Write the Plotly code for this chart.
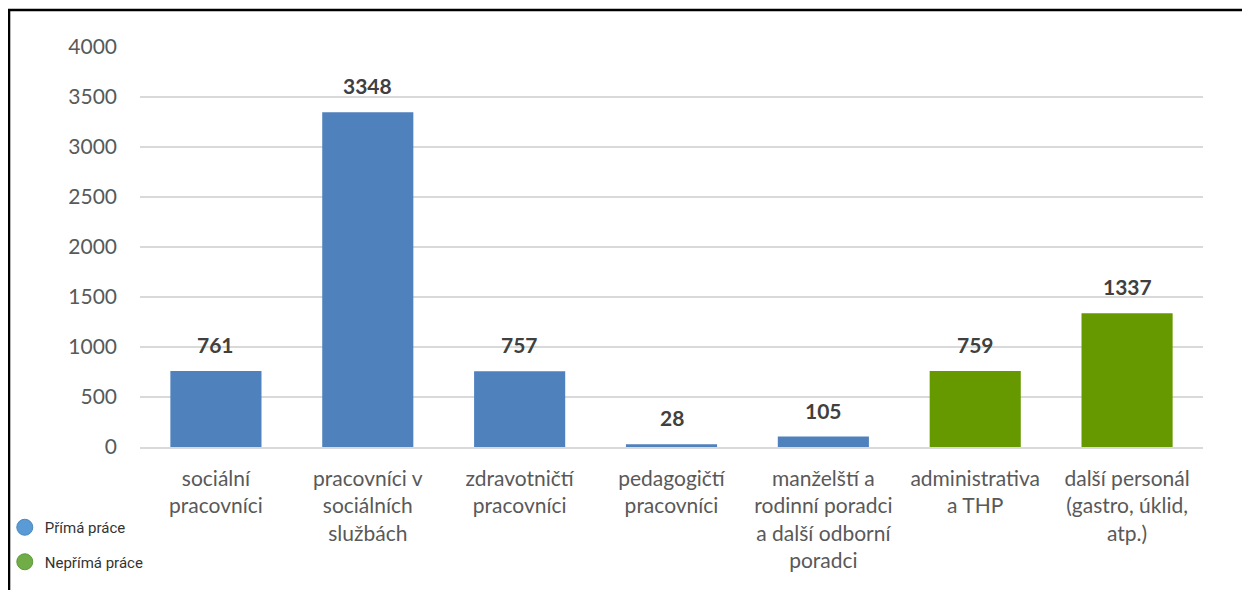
import plotly.graph_objects as go

categories = [
    "sociální<br>pracovníci",
    "pracovníci v<br>sociálních<br>službách",
    "zdravotničtí<br>pracovníci",
    "pedagogičtí<br>pracovníci",
    "manželští a<br>rodinní poradci<br>a další odborní<br>poradci",
    "administrativa<br>a THP",
    "další personál<br>(gastro, úklid,<br>atp.)",
]
values = [761, 3348, 757, 28, 105, 759, 1337]
work_type = ["Přímá práce"] * 5 + ["Nepřímá práce"] * 2
legend_names = ["Přímá práce", "Nepřímá práce"]
y_ticks = [0, 500, 1000, 1500, 2000, 2500, 3000, 3500, 4000]

bar_colors = {"Přímá práce": "#4f81bd", "Nepřímá práce": "#669900"}
legend_colors = {"Přímá práce": "#5b9bd5", "Nepřímá práce": "#70ad47"}
legend_lines = {"Přímá práce": "#4a87bf", "Nepřímá práce": "#5f9a3c"}

FONT = "Lato"
FS = 21

fig = go.Figure()
fig.add_trace(go.Bar(
    x=categories, y=values,
    marker=dict(color=[bar_colors[w] for w in work_type], line=dict(width=0)),
    width=0.6, showlegend=False, hoverinfo="skip",
))

for i, name in enumerate(legend_names):
    fig.add_trace(go.Scatter(
        x=[None], y=[None], mode="markers", name=name,
        legendgroup=f"g{i}",
        marker=dict(symbol="circle", size=16, color=legend_colors[name],
                    line=dict(color=legend_lines[name], width=1)),
    ))

for c, v in zip(categories, values):
    fig.add_annotation(
        x=c, y=v, text=f"<b>{v}</b>", showarrow=False,
        yanchor="bottom", yshift=12,
        font=dict(family=FONT, size=FS, color="#404040"),
    )

fig.add_shape(
    type="rect", xref="paper", yref="paper",
    x0=-0.1232, x1=1.2, y0=-0.6, y1=1.0925,
    line=dict(color="black", width=2.5), fillcolor="rgba(0,0,0,0)",
    layer="above",
)

fig.update_layout(
    width=1250, height=590,
    margin=dict(l=132, r=55, t=39, b=151, autoexpand=False),
    paper_bgcolor="white", plot_bgcolor="white",
    bargap=0.4,
    font=dict(family=FONT, size=FS, color="#595959"),
    legend=dict(
        x=-0.1272, xanchor="left", y=-0.16, yanchor="top",
        font=dict(family="Roboto", size=15, color="#333333"),
        tracegroupgap=12, itemsizing="trace",
        bgcolor="rgba(0,0,0,0)",
    ),
    xaxis=dict(
        showgrid=False, showline=True, linecolor="#d9d9d9", linewidth=1.5,
        ticks="outside", ticklen=12, tickcolor="rgba(0,0,0,0)",
        tickfont=dict(family=FONT, size=FS, color="#595959"),
        tickangle=0,
    ),
    yaxis=dict(
        range=[0, 4000], tickvals=y_ticks,
        showgrid=True, gridcolor="#d9d9d9", gridwidth=1.5,
        zeroline=False, showline=False,
        ticklabelstandoff=22,
        tickfont=dict(family=FONT, size=FS, color="#595959"),
    ),
)

fig.write_html("out.html")
